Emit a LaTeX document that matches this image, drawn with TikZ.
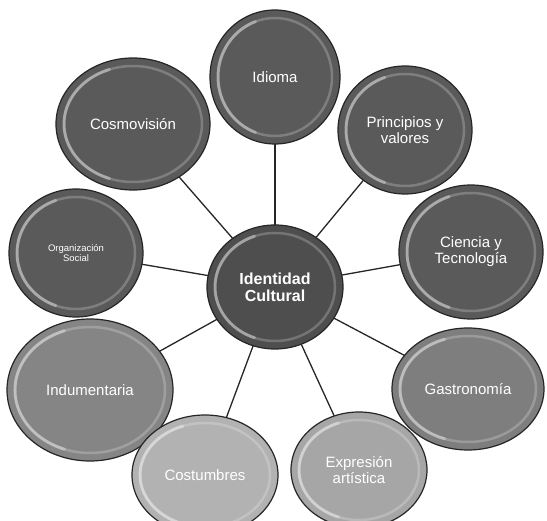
\documentclass[tikz,border=0pt]{standalone}
\usepackage{fontspec}
\setmainfont{Liberation Sans}
\usetikzlibrary{shapes.geometric,backgrounds,calc}
\definecolor{gdark}{HTML}{5A5A5A}
\definecolor{gcent}{HTML}{4E4E4E}
\definecolor{gmid}{HTML}{858585}
\definecolor{gmid2}{HTML}{7E7E7E}
\definecolor{glight}{HTML}{B2B2B2}
\definecolor{glight2}{HTML}{A6A6A6}
\tikzset{
  bub/.style={ellipse, draw=black!85, line width=1.2pt, inner sep=0pt},
  glare/.style={white, opacity=0.22, line width=2.5pt},
  glareL/.style={white, opacity=0.35, line width=3pt, line cap=round},
  link/.style={draw=black!85, line width=1.3pt},
  lbl/.style={text=white, align=center, font=\fontsize{15}{16}\selectfont}
}
\newcommand\bub[8]{%
  \node[bub, fill=#6, minimum width={2*#4}, minimum height={2*#5}] (#1) at (#2,#3) {};
  \draw[glare] (#2,#3) ellipse [x radius={#4-8}, y radius={#5-8}];
  \draw[glareL] ($(#2,#3)+(110:{#4-8} and {#5-8})$) arc [start angle=110, end angle=250, x radius={#4-8}, y radius={#5-8}];
  \node[lbl, #8] at (#2,#3) {#7};
}
\begin{document}
\begin{tikzpicture}[x=1pt,y=-1pt]
\useasboundingbox (0,0) rectangle (547,521);
\bub{id}{275}{77}{65}{67}{gdark}{Idioma}{}
\bub{cos}{133}{124}{77}{66}{gdark}{Cosmovisión}{}
\bub{pri}{405}{130}{67}{64}{gdark}{Principios y\\valores}{}
\bub{cie}{471}{252}{72}{67}{gdark}{Ciencia y\\Tecnología}{}
\bub{org}{76}{253}{67}{64}{gdark}{Organización\\Social}{font=\fontsize{9.5}{10}\selectfont}
\bub{ind}{90}{390}{83}{71}{gmid}{Indumentaria}{}
\bub{gas}{468}{389}{76}{61}{gmid2}{Gastronomía}{}
\bub{cst}{205}{475}{73}{60}{glight}{Costumbres}{}
\bub{exp}{359}{470}{68}{58}{glight2}{Expresión\\artística}{}
\bub{ic}{275}{287}{68}{62}{gcent}{Identidad\\Cultural}{font=\fontsize{16}{17}\selectfont\bfseries}
\begin{pgfonlayer}{background}
\fill[white] (0,0) rectangle (547,521);
\foreach \n in {id,cos,pri,cie,org,ind,gas,cst,exp}{
  \draw[link] (ic.center) -- (\n.center);
}
\end{pgfonlayer}
\end{tikzpicture}
\end{document}
